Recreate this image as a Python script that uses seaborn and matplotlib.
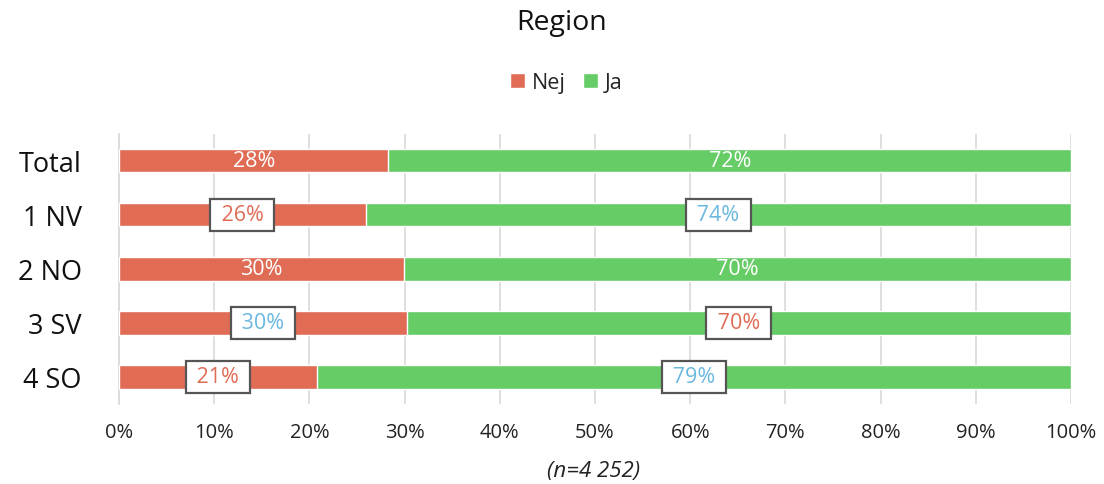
import pandas as pd
import matplotlib.pyplot as plt
import seaborn as sns
from matplotlib.ticker import MultipleLocator, PercentFormatter
from matplotlib.patches import Patch

# values (share in %)
regions = ['Total', '1 NV', '2 NO', '3 SV', '4 SO']
nej = [28.3, 25.9, 29.9, 30.2, 20.8]
ja = [71.7, 74.1, 70.1, 69.8, 79.2]
nej_text = ['28%', '26%', '30%', '30%', '21%']
ja_text = ['72%', '74%', '70%', '70%', '79%']
# significance marks: 'none' = plain white label, 'low' = red in box, 'high' = blue in box
nej_sig = ['none', 'low', 'none', 'high', 'low']
ja_sig = ['none', 'high', 'none', 'low', 'high']

RED = '#E06C55'
GREEN = '#66CC66'
BLUE = '#6BB8E0'

df = pd.DataFrame({'region': regions, 'Nej': nej, 'Ja': ja})
df['total'] = df['Nej'] + df['Ja']

sns.set_style('white')
plt.rcParams['font.family'] = ['Open Sans', 'DejaVu Sans']

fig = plt.figure(figsize=(11.04, 4.85), dpi=100)
ax = fig.add_axes([0.1078, 0.165, 0.8623, 0.557])

sns.barplot(data=df, y='region', x='total', color=GREEN, orient='h', width=0.43,
            saturation=1, ax=ax, zorder=2)
sns.barplot(data=df, y='region', x='Nej', color=RED, orient='h', width=0.43,
            saturation=1, ax=ax, zorder=3)

ax.set_xlim(0, 100)
ax.set_ylim(len(regions) - 0.5, -0.5)
ax.xaxis.set_major_locator(MultipleLocator(10))
ax.xaxis.set_major_formatter(PercentFormatter(decimals=0))
ax.grid(axis='x', color='#D9D9D9', linewidth=1.2, zorder=0)
ax.set_axisbelow(True)
for s in ['top', 'right', 'bottom']:
    ax.spines[s].set_visible(False)
ax.spines['left'].set_color('#D9D9D9')
ax.spines['left'].set_linewidth(1.2)
ax.set_xlabel('')
ax.set_ylabel('')
ax.tick_params(axis='x', length=0, labelsize=14.5, pad=13, labelcolor='#222222')
ax.tick_params(axis='y', which='major', length=0, labelsize=19.5, pad=27, labelcolor='#111111')
ax.set_yticks([i + 0.5 for i in range(-1, len(regions))], minor=True)
ax.tick_params(axis='y', which='minor', length=6, color='#D9D9D9', width=1.2)

sig_color = {'low': RED, 'high': BLUE}


def put_label(x, y, text, sig):
    if sig == 'none':
        ax.text(x, y, text, ha='center', va='center', color='white', fontsize=15.5, zorder=5)
    else:
        ax.text(x, y, ' ' + text + ' ', ha='center', va='center', color=sig_color[sig],
                fontsize=15.5, zorder=5,
                bbox=dict(boxstyle='square,pad=0.25', facecolor='white', edgecolor='#555555',
                          linewidth=1.6))


for i in range(len(regions)):
    put_label(nej[i] / 2, i, nej_text[i], nej_sig[i])
    put_label(nej[i] + ja[i] / 2, i, ja_text[i], ja_sig[i])

fig.text(0.509, 0.952, 'Region', ha='center', va='center', fontsize=20.5, color='#111111')
handles = [Patch(facecolor=RED, label='Nej'), Patch(facecolor=GREEN, label='Ja')]
fig.legend(handles=handles, loc='center', bbox_to_anchor=(0.513, 0.827), ncol=2, frameon=False,
           fontsize=15.5, handlelength=0.7, handleheight=0.7, handletextpad=0.3, columnspacing=0.8)
fig.text(0.538, 0.027, '(n=4 252)', ha='center', va='center', fontsize=16, style='italic',
         color='#222222')

plt.savefig('out.png', dpi=100)
